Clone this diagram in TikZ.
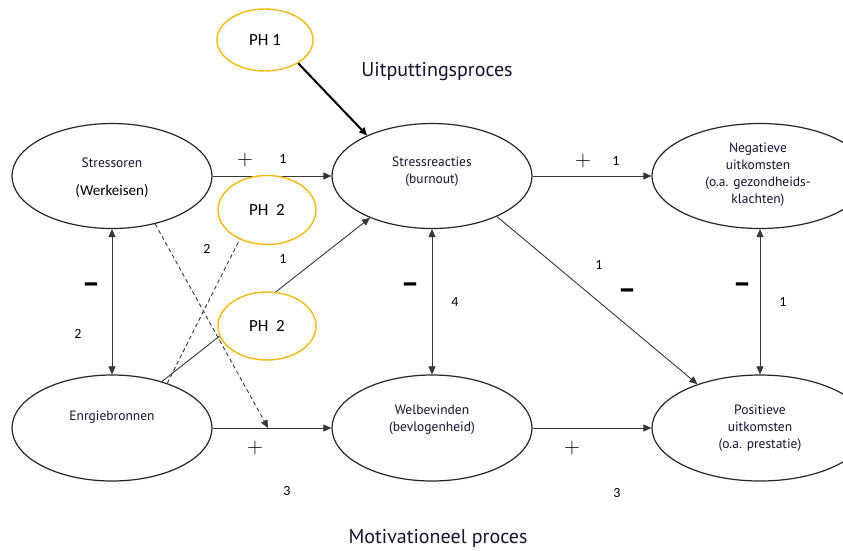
\documentclass[tikz,border=0pt]{standalone}
\usepackage{fontspec}
\usetikzlibrary{shapes.geometric,arrows.meta,calc}
\newfontfamily\ptsans{PT Sans}
\newfontfamily\ptsansbold{PT Sans Bold}
\newfontfamily\carlito{Carlito}
\definecolor{phorange}{RGB}{245,185,20}
\definecolor{navy}{RGB}{20,20,48}
\definecolor{linegray}{RGB}{55,55,55}
\tikzset{
  box/.style={ellipse, draw=black!85, line width=1.2pt, fill=white, minimum width=200pt, minimum height=105pt, inner sep=0pt},
  widebox/.style={box, minimum width=216pt},
  phbox/.style={ellipse, draw=phorange, line width=1.4pt, fill=white, inner sep=0pt, font=\carlito\fontsize{17}{20}\selectfont},
  intext/.style={font=\ptsans\fontsize{13.5}{17}\selectfont, align=center, text=navy, inner sep=0pt},
  title/.style={font=\ptsans\fontsize{20}{24}\selectfont, text=navy, inner sep=0pt},
  num/.style={font=\carlito\fontsize{14}{16}\selectfont, inner sep=0pt},
  plussign/.style={font=\rmfamily\fontsize{22}{24}\selectfont, inner sep=0pt},
  minussign/.style={font=\ptsansbold\fontsize{28}{30}\selectfont, inner sep=0pt},
  tip/.style={-{Triangle[length=8pt,width=7pt]}},
  arr/.style={tip, line width=0.9pt, draw=linegray},
  darr/.style={{Triangle[length=8pt,width=7pt]}-{Triangle[length=8pt,width=7pt]}, line width=0.9pt, draw=linegray},
  dashline/.style={line width=0.9pt, draw=linegray, dash pattern=on 4pt off 3pt},
}
\begin{document}
\begin{tikzpicture}[x=1pt,y=-1pt]
\useasboundingbox (0,0) rectangle (843,550);
\clip (0,0) rectangle (843,550);
\fill[white] (0,0) rectangle (843,550);

% main ellipses
\node[box] (S) at (112,176) {};
\node[box] (R) at (432,176) {};
\node[widebox] (N) at (760,176) {};
\node[box, minimum height=106pt] (E) at (112,428) {};
\node[box, minimum height=106pt] (W) at (432,428) {};
\node[widebox, minimum height=106pt] (P) at (760,428) {};

% texts in ellipses
\node[intext] (St) at (112,163) {Stressoren};
\node[num, font=\carlito\fontsize{15}{17}\selectfont] (Sw) at (112,191) {(Werkeisen)};
\node[intext] (Rt) at (432,172) {Stressreacties\\(burnout)};
\node[intext] (Nt) at (758,175) {Negatieve\\uitkomsten\\(o.a. gezondheids-\\klachten)};
\node[intext] (Et) at (112,417) {Enrgiebronnen};
\node[intext] (Wt) at (432,420) {Welbevinden\\(bevlogenheid)};
\node[intext] (Pt) at (760,428) {Positieve\\uitkomsten\\(o.a. prestatie)};

% titles
\node[title] (T1) at (437,72) {Uitputtingsproces};
\node[title] (T2) at (438,538) {Motivationeel proces};

% connectors
\draw[arr] (S.east) -- (R.west);
\draw[arr] (R.east) -- (N.west);
\draw[arr] (E.east) -- (W.west);
\draw[arr] (W.east) -- (P.west);
\draw[darr] (S.south) -- (E.north);
\draw[darr] (R.south) -- (W.north);
\draw[darr] (N.south) -- (P.north);
\draw[arr] (R.-32) -- (P.145);
\draw[arr] (E.43) -- (R.-146);
\coordinate (J) at ($(E.east)!0.467!(W.west)$);
\draw[dashline, tip] (S.-48) -- (J);

% PH ellipses
\node[phbox, minimum width=96pt, minimum height=62pt] (PH1) at (265,40) {PH 1};
\node[phbox, minimum width=98pt, minimum height=69pt] (PH2a) at (267,210) {PH~~2};
\node[phbox, minimum width=98pt, minimum height=68pt] (PH2b) at (267,326) {PH~~2};

\draw[dashline] (E.39) -- (PH2a.-133);
\draw[tip, line width=2pt, draw=black] (PH1.-35) -- (R.148);

% signs
\node[plussign] (p1) at (245,160) {+};
\node[plussign] (p2) at (583,161) {+};
\node[plussign] (p3) at (255,448) {+};
\node[plussign] (p4) at (572,448) {+};
\node[minussign] (m1) at (91,288) {–};
\node[minussign] (m2) at (410,288) {–};
\node[minussign] (m3) at (627,294) {–};
\node[minussign] (m4) at (742,288) {–};

% numbers
\node[num] (n1) at (283,159) {1};
\node[num] (n2) at (616,161) {1};
\node[num] (n3) at (207,249) {2};
\node[num] (n4) at (283,259) {1};
\node[num] (n5) at (78,334) {2};
\node[num] (n6) at (455,302) {4};
\node[num] (n7) at (599,265) {1};
\node[num] (n8) at (783,302) {1};
\node[num] (n9) at (287,491) {3};
\node[num] (n10) at (617,493) {3};
\end{tikzpicture}
\end{document}
